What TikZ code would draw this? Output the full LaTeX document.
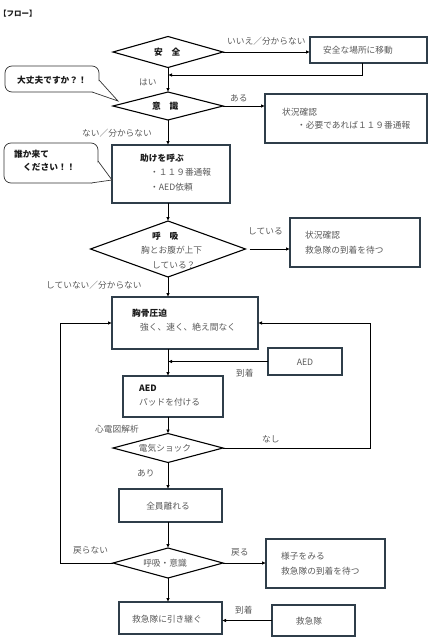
\documentclass[tikz,border=0pt]{standalone}
\usepackage{fontspec}
\setmainfont{Noto Sans CJK JP}
\usetikzlibrary{shapes.geometric,arrows.meta}
\definecolor{slate}{RGB}{47,62,74}
\definecolor{txtgray}{RGB}{89,89,89}
\tikzset{%
    box/.style={draw=slate, line width=1.1pt, inner sep=0pt, outer sep=0pt},
    dia/.style={draw=black, diamond, line width=1.1pt, inner sep=0pt, outer sep=0pt},
    bubble/.style={draw=black!80, line width=0.7pt, rounded corners=7pt, inner sep=0pt, outer sep=0pt},
    txt/.style={anchor=west, inner sep=0pt, text=txtgray, font=\fontsize{8.7}{10}\selectfont},
    ctr/.style={txt, anchor=center},
    hd/.style={txt, text=black!90, font=\fontsize{8.7}{10}\selectfont\bfseries},
    ln/.style={line width=0.9pt},
    arr/.style={ln, -{Latex[length=4pt,width=3.6pt]}}
}
\begin{document}
\begin{tikzpicture}[x=1pt,y=-1pt]
    \useasboundingbox (0,0) rectangle (430,640);
    % boxes
    \foreach \n/\x/\y/\w/\h in {movebox/368.5/50/117/26, check1/346/118.5/162/49, call/171/174/118/58,
        check2/355/242.5/130/49, cpr/185/323/146/52, aedarr/305/361.5/74/27, aedpad/173/396.5/100/41,
        clear/170.5/505.5/103/33, watch/325.5/563.5/119/49, handover/170.5/618/103/32, ems/313.5/620.5/83/31}
    {
    \node[box, minimum width=\w pt, minimum height=\h pt] (\n) at (\x,\y) {};
    }
    % diamonds
    \foreach \n/\y/\w/\h in {safe/52/110/31, consc/106/110/28, breath/249/155/56, shock/448/110/29, recov/563/110/30}
    {
    \node[dia, minimum width=\w pt, minimum height=\h pt] (\n) at (168,\y) {};
    }
    % callouts
    \node[bubble, minimum width=94pt, minimum height=26pt] (okbub) at (52,79) {};
    \fill[white] (99,80) -- (118,101) -- (92,92) -- cycle;
    \draw[draw=black!80, line width=0.7pt] (99,80) -- (118,101) -- (92,92);
    \node[bubble, minimum width=94pt, minimum height=40pt] (helpbub) at (51,163) {};
    \fill[white] (98,161) -- (112,180) -- (91,183) -- cycle;
    \draw[draw=black!80, line width=0.7pt] (98,161) -- (112,180) -- (91,183);

    % texts
    \node[hd, font=\fontsize{7.5}{9}\selectfont\bfseries] (title) at (-1,14) {【フロー】};
    \node[hd] (safet) at (154,52) {安　全};
    \node[txt] (nosafe) at (227,41) {いいえ／分からない};
    \node[txt] (movet) at (323,50) {安全な場所に移動};
    \node[txt] (yes) at (139,82) {はい};
    \node[hd, anchor=center] (okt) at (52,80) {大丈夫ですか？！};
    \node[hd] (conscT) at (152,106) {意　識};
    \node[txt] (aru) at (230,98) {ある};
    \node[txt] (check1a) at (282,112) {状況確認};
    \node[txt] (check1b) at (297,125) {・必要であれば１１９番通報};
    \node[txt] (nai) at (82,133) {ない／分からない};
    \node[hd] (helpa) at (14,154) {誰か来て};
    \node[hd] (helpb) at (23,167) {ください！！};
    \node[hd] (callT) at (140,158) {助けを呼ぶ};
    \node[txt] (callb) at (150,172) {・１１９番通報};
    \node[txt] (callc) at (150,187) {・AED依頼};
    \node[hd] (breathT) at (152,236) {呼　吸};
    \node[txt] (breathb) at (141,250) {胸とお腹が上下};
    \node[txt] (breathc) at (152,265) {している？};
    \node[txt] (shiteiru) at (248,231) {している};
    \node[txt] (check2a) at (305,235) {状況確認};
    \node[txt] (check2b) at (305,250) {救急隊の到着を待つ};
    \node[txt] (shiteinai) at (46,285) {していない／分からない};
    \node[hd] (cprT) at (132,313) {胸骨圧迫};
    \node[txt] (cprb) at (140,327) {強く、速く、絶え間なく};
    \node[ctr] (aedarrT) at (305,362) {AED};
    \node[txt] (arrive1) at (236,373) {到着};
    \node[hd] (aedT) at (139,388) {AED};
    \node[txt] (aedb) at (139,402) {パッドを付ける};
    \node[txt] (ecg) at (95,429) {心電図解析};
    \node[ctr] (shockT) at (165,448) {電気ショック};
    \node[txt] (nashi) at (262,439) {なし};
    \node[txt] (ari) at (137,473) {あり};
    \node[ctr] (clearT) at (168,506) {全員離れる};
    \node[txt] (modoranai) at (73,550) {戻らない};
    \node[ctr] (recovT) at (165,563) {呼吸・意識};
    \node[txt] (modoru) at (231,552) {戻る};
    \node[txt] (watcha) at (281,556) {様子をみる};
    \node[txt] (watchb) at (281,571) {救急隊の到着を待つ};
    \node[txt] (handT) at (132,619) {救急隊に引き継ぐ};
    \node[txt] (arrive2) at (235,610) {到着};
    \node[ctr] (emsT) at (309,621) {救急隊};

    % connectors
    \coordinate (merge) at (168,75);
    \draw[arr] (safe.east) -- (safe.east -| movebox.west);
    \draw[arr] ([xshift=-6pt]movebox.south) |- (merge);
    \draw[arr] (safe.south) -- (consc.north);
    \draw[arr] (consc.east) -- (consc.east -| check1.west);
    \draw[arr] (consc.south) -- (consc.south |- call.north);
    \draw[arr] (consc.south |- call.south) -- (breath.north);
    \draw[arr] ([xshift=4pt]breath.east) -- (breath.east -| check2.west);
    \draw[arr] (breath.south) -- (breath.south |- cpr.north);
    \draw[arr] (breath.south |- cpr.south) -- (breath.south |- aedpad.north);
    \draw[arr] (aedarr.west) -- (aedarr.west -| shock.north);
    \draw[arr] (shock.north |- aedpad.south) -- (shock.north);
    \draw[arr] (shock.east) -- ++(147,0) |- (cpr.east);
    \draw[arr] (shock.south) -- (shock.south |- clear.north);
    \draw[arr] (recov.north |- clear.south) -- (recov.north);
    \draw[arr] (recov.west) -- ++(-53,0) |- (cpr.west);
    \draw[arr] (recov.east) -- (recov.east -| watch.west);
    \draw[arr] (recov.south) -- (recov.south |- handover.north);
    \draw[arr] (ems.west) -- (ems.west -| handover.east);
\end{tikzpicture}
\end{document}
